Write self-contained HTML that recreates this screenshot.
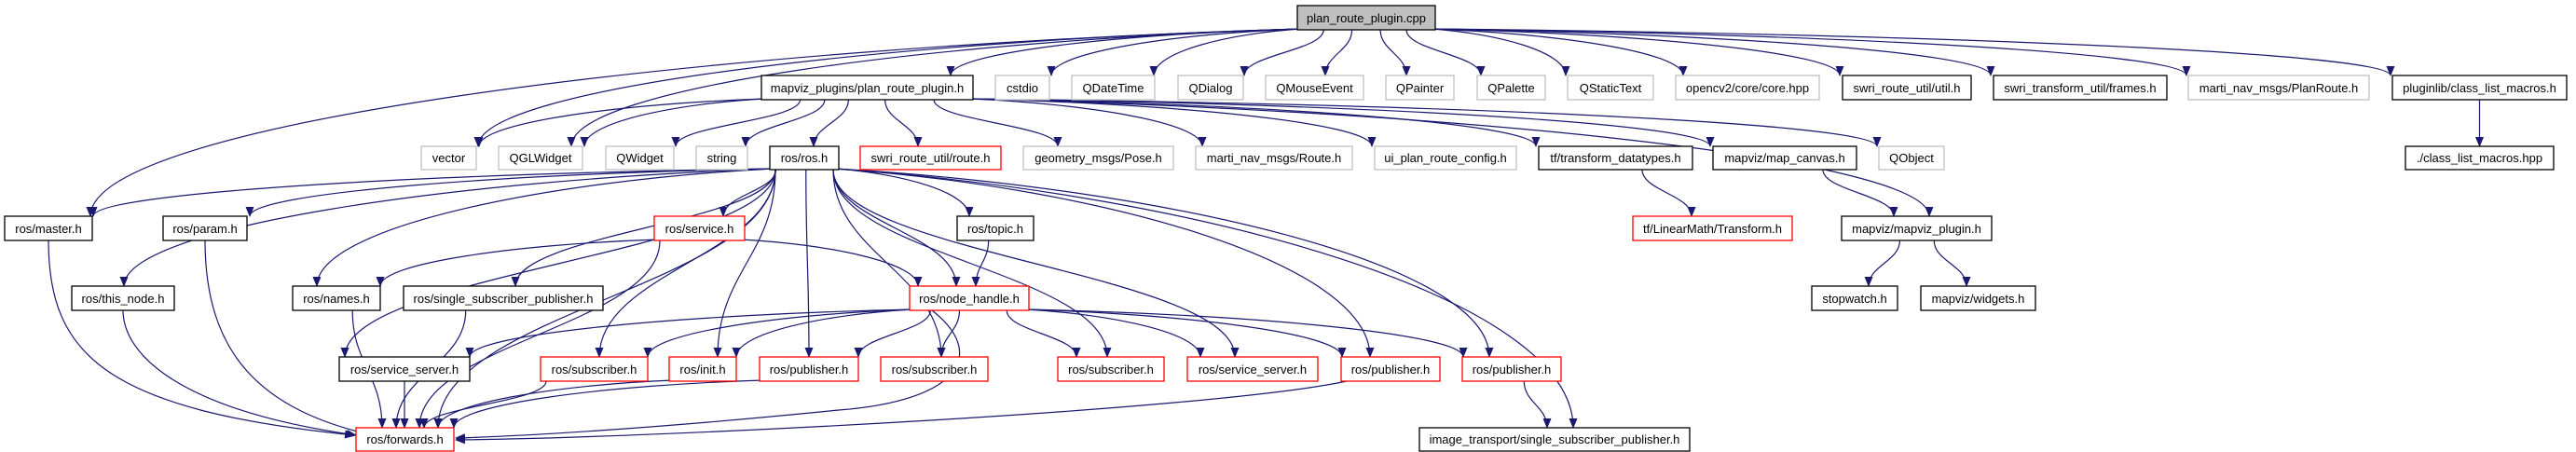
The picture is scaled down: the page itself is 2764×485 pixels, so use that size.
<!DOCTYPE html>
<html><head><meta charset="utf-8"><style>
html,body{margin:0;padding:0;background:#fff;width:2764px;height:485px;overflow:hidden}
svg text{font-family:"Liberation Sans",sans-serif;font-size:13px;text-anchor:middle;fill:#000}
</style></head><body>
<svg id="g" width="2764" height="485" viewBox="0 0 2764 485" xmlns="http://www.w3.org/2000/svg">
<defs><marker id="a" markerWidth="11" markerHeight="9" refX="10" refY="4.5" orient="auto" markerUnits="userSpaceOnUse"><polygon points="0,0 11,4.5 0,9" fill="#191970"/></marker></defs>
<g id="edges" fill="none" stroke="#191970" stroke-width="1.2"></g>
<g id="nodes">
<rect x="1392" y="6" width="148" height="26" fill="#bfbfbf" stroke="#000" stroke-width="1.3"/><text x="1466" y="24">plan_route_plugin.cpp</text>
<rect x="817" y="81" width="227" height="26" fill="#fff" stroke="#000" stroke-width="1.3"/><text x="930.5" y="99">mapviz_plugins/plan_route_plugin.h</text>
<rect x="1068" y="81" width="58" height="26" fill="#fff" stroke="#bfbfbf" stroke-width="1.3"/><text x="1097" y="99">cstdio</text>
<rect x="1150" y="81" width="89" height="26" fill="#fff" stroke="#bfbfbf" stroke-width="1.3"/><text x="1194.5" y="99">QDateTime</text>
<rect x="1264" y="81" width="70" height="26" fill="#fff" stroke="#bfbfbf" stroke-width="1.3"/><text x="1299" y="99">QDialog</text>
<rect x="1358" y="81" width="105" height="26" fill="#fff" stroke="#bfbfbf" stroke-width="1.3"/><text x="1410.5" y="99">QMouseEvent</text>
<rect x="1487" y="81" width="73" height="26" fill="#fff" stroke="#bfbfbf" stroke-width="1.3"/><text x="1523.5" y="99">QPainter</text>
<rect x="1585" y="81" width="73" height="26" fill="#fff" stroke="#bfbfbf" stroke-width="1.3"/><text x="1621.5" y="99">QPalette</text>
<rect x="1682" y="81" width="92" height="26" fill="#fff" stroke="#bfbfbf" stroke-width="1.3"/><text x="1728" y="99">QStaticText</text>
<rect x="1798" y="81" width="154" height="26" fill="#fff" stroke="#bfbfbf" stroke-width="1.3"/><text x="1875" y="99">opencv2/core/core.hpp</text>
<rect x="1977" y="81" width="138" height="26" fill="#fff" stroke="#000" stroke-width="1.3"/><text x="2046" y="99">swri_route_util/util.h</text>
<rect x="2139" y="81" width="186" height="26" fill="#fff" stroke="#000" stroke-width="1.3"/><text x="2232" y="99">swri_transform_util/frames.h</text>
<rect x="2348" y="81" width="194" height="26" fill="#fff" stroke="#bfbfbf" stroke-width="1.3"/><text x="2445" y="99">marti_nav_msgs/PlanRoute.h</text>
<rect x="2567" y="81" width="187" height="26" fill="#fff" stroke="#000" stroke-width="1.3"/><text x="2660.5" y="99">pluginlib/class_list_macros.h</text>
<rect x="452" y="157" width="59" height="25" fill="#fff" stroke="#bfbfbf" stroke-width="1.3"/><text x="481.5" y="174">vector</text>
<rect x="535" y="157" width="90" height="25" fill="#fff" stroke="#bfbfbf" stroke-width="1.3"/><text x="580" y="174">QGLWidget</text>
<rect x="650" y="157" width="73" height="25" fill="#fff" stroke="#bfbfbf" stroke-width="1.3"/><text x="686.5" y="174">QWidget</text>
<rect x="747" y="157" width="55" height="25" fill="#fff" stroke="#bfbfbf" stroke-width="1.3"/><text x="774.5" y="174">string</text>
<rect x="826" y="157" width="74" height="25" fill="#fff" stroke="#000" stroke-width="1.3"/><text x="863" y="174">ros/ros.h</text>
<rect x="923" y="157" width="151" height="25" fill="#fff" stroke="#f00" stroke-width="1.3"/><text x="998.5" y="174">swri_route_util/route.h</text>
<rect x="1098" y="157" width="161" height="25" fill="#fff" stroke="#bfbfbf" stroke-width="1.3"/><text x="1178.5" y="174">geometry_msgs/Pose.h</text>
<rect x="1283" y="157" width="168" height="25" fill="#fff" stroke="#bfbfbf" stroke-width="1.3"/><text x="1367" y="174">marti_nav_msgs/Route.h</text>
<rect x="1475" y="157" width="152" height="25" fill="#fff" stroke="#bfbfbf" stroke-width="1.3"/><text x="1551" y="174">ui_plan_route_config.h</text>
<rect x="1651" y="157" width="165" height="25" fill="#fff" stroke="#000" stroke-width="1.3"/><text x="1733.5" y="174">tf/transform_datatypes.h</text>
<rect x="1838" y="157" width="154" height="25" fill="#fff" stroke="#000" stroke-width="1.3"/><text x="1915" y="174">mapviz/map_canvas.h</text>
<rect x="2016" y="157" width="70" height="25" fill="#fff" stroke="#bfbfbf" stroke-width="1.3"/><text x="2051" y="174">QObject</text>
<rect x="2581" y="157" width="159" height="25" fill="#fff" stroke="#000" stroke-width="1.3"/><text x="2660.5" y="174">./class_list_macros.hpp</text>
<rect x="5" y="232" width="94" height="26" fill="#fff" stroke="#000" stroke-width="1.3"/><text x="52" y="250">ros/master.h</text>
<rect x="175" y="232" width="90" height="26" fill="#fff" stroke="#000" stroke-width="1.3"/><text x="220" y="250">ros/param.h</text>
<rect x="702" y="232" width="97" height="26" fill="#fff" stroke="#f00" stroke-width="1.3"/><text x="750.5" y="250">ros/service.h</text>
<rect x="1027" y="232" width="82" height="26" fill="#fff" stroke="#000" stroke-width="1.3"/><text x="1068" y="250">ros/topic.h</text>
<rect x="1752" y="232" width="171" height="26" fill="#fff" stroke="#f00" stroke-width="1.3"/><text x="1837.5" y="250">tf/LinearMath/Transform.h</text>
<rect x="1976" y="232" width="161" height="26" fill="#fff" stroke="#000" stroke-width="1.3"/><text x="2056.5" y="250">mapviz/mapviz_plugin.h</text>
<rect x="77" y="307" width="110" height="26" fill="#fff" stroke="#000" stroke-width="1.3"/><text x="132" y="325">ros/this_node.h</text>
<rect x="314" y="307" width="94" height="26" fill="#fff" stroke="#000" stroke-width="1.3"/><text x="361" y="325">ros/names.h</text>
<rect x="433" y="307" width="214" height="26" fill="#fff" stroke="#000" stroke-width="1.3"/><text x="540" y="325">ros/single_subscriber_publisher.h</text>
<rect x="976" y="307" width="128" height="26" fill="#fff" stroke="#f00" stroke-width="1.3"/><text x="1040" y="325">ros/node_handle.h</text>
<rect x="1944" y="307" width="92" height="26" fill="#fff" stroke="#000" stroke-width="1.3"/><text x="1990" y="325">stopwatch.h</text>
<rect x="2061" y="307" width="123" height="26" fill="#fff" stroke="#000" stroke-width="1.3"/><text x="2122.5" y="325">mapviz/widgets.h</text>
<rect x="364" y="383" width="140" height="26" fill="#fff" stroke="#000" stroke-width="1.3"/><text x="434" y="401">ros/service_server.h</text>
<rect x="580" y="383" width="115" height="26" fill="#fff" stroke="#f00" stroke-width="1.3"/><text x="637.5" y="401">ros/subscriber.h</text>
<rect x="718" y="383" width="72" height="26" fill="#fff" stroke="#f00" stroke-width="1.3"/><text x="754" y="401">ros/init.h</text>
<rect x="815" y="383" width="106" height="26" fill="#fff" stroke="#f00" stroke-width="1.3"/><text x="868" y="401">ros/publisher.h</text>
<rect x="945" y="383" width="115" height="26" fill="#fff" stroke="#f00" stroke-width="1.3"/><text x="1002.5" y="401">ros/subscriber.h</text>
<rect x="1135" y="383" width="114" height="26" fill="#fff" stroke="#f00" stroke-width="1.3"/><text x="1192" y="401">ros/subscriber.h</text>
<rect x="1274" y="383" width="140" height="26" fill="#fff" stroke="#f00" stroke-width="1.3"/><text x="1344" y="401">ros/service_server.h</text>
<rect x="1439" y="383" width="106" height="26" fill="#fff" stroke="#f00" stroke-width="1.3"/><text x="1492" y="401">ros/publisher.h</text>
<rect x="1569" y="383" width="106" height="26" fill="#fff" stroke="#f00" stroke-width="1.3"/><text x="1622" y="401">ros/publisher.h</text>
<rect x="382" y="459" width="105" height="25" fill="#fff" stroke="#f00" stroke-width="1.3"/><text x="434.5" y="476">ros/forwards.h</text>
<rect x="1523" y="459" width="290" height="25" fill="#fff" stroke="#000" stroke-width="1.3"/><text x="1668" y="476">image_transport/single_subscriber_publisher.h</text>
</g>
</svg>
<script>
var B={cpp:[1392,6,1540,32],mp:[817,81,1044,107],cstdio:[1068,81,1126,107],qdt:[1150,81,1239,107],qd:[1264,81,1334,107],qme:[1358,81,1463,107],qp:[1487,81,1560,107],qpal:[1585,81,1658,107],qst:[1682,81,1774,107],cv:[1798,81,1952,107],util:[1977,81,2115,107],frames:[2139,81,2325,107],plan:[2348,81,2542,107],plug:[2567,81,2754,107],
vector:[452,157,511,182],qgl:[535,157,625,182],qw:[650,157,723,182],str:[747,157,802,182],ros:[826,157,900,182],route:[923,157,1074,182],pose:[1098,157,1259,182],mroute:[1283,157,1451,182],ui:[1475,157,1627,182],tfd:[1651,157,1816,182],canvas:[1838,157,1992,182],qobj:[2016,157,2086,182],clm:[2581,157,2740,182],
master:[5,232,99,258],param:[175,232,265,258],service:[702,232,799,258],topic:[1027,232,1109,258],tr:[1752,232,1923,258],mvp:[1976,232,2137,258],
thisn:[77,307,187,333],names:[314,307,408,333],ssp:[433,307,647,333],nh:[976,307,1104,333],sw:[1944,307,2036,333],wid:[2061,307,2184,333],
ss1:[364,383,504,409],sub1:[580,383,695,409],init:[718,383,790,409],pub1:[815,383,921,409],sub2:[945,383,1060,409],sub3:[1135,383,1249,409],ss2:[1274,383,1414,409],pub2:[1439,383,1545,409],pub3:[1569,383,1675,409],
fw:[382,459,487,484],it:[1523,459,1813,484]};
var E=[
["cpp","mp",1020],["cpp","cstdio",1128],["cpp","qdt",1238],["cpp","qd",1335],["cpp","qme",1422],["cpp","qp",1509],["cpp","qpal",1589],["cpp","qst",1680],["cpp","cv",1806],["cpp","util",1974],["cpp","frames",2136],["cpp","plan",2346],["cpp","plug",2565],
["cpp","vector",513],["cpp","qgl",613],["cpp","master",97],
["mp","vector",522],["mp","qgl",627],["mp","qw",725],["mp","str",800],["mp","ros",873],["mp","route",985],["mp","pose",1135],["mp","mroute",1290],["mp","ui",1470],["mp","tfd",1648],["mp","canvas",1830],["mp","qobj",2014],["mp","mvp",2070],
["plug","clm"],["tfd","tr",1815],["canvas","mvp",2032],["mvp","sw",2005],["mvp","wid",2110],
["ros","master",100],["ros","param",268],["ros","thisn",133],["ros","names",340],["ros","ssp",553],["ros","service",776],["ros","ss1",370],["ros","sub1",643],["ros","init",770],["ros","pub1",868],["ros","fw",470],["ros","topic",1040],["ros","nh",1026],["ros","sub2",1010],["ros","sub3",1188],["ros","ss2",1325],["ros","pub2",1470],["ros","pub3",1598],["ros","it",1688],
["service","names",408],["service","nh",985],["service","fw",450],["topic","nh",1047],
["nh","ss1",504],["nh","sub1",695],["nh","init",790],["nh","pub1",921],["nh","sub2",1010],["nh","sub3",1155],["nh","ss2",1288],["nh","pub2",1440],["nh","pub3",1570],["nh","fw",487],
["master","fw",380],["param","fw",400],["thisn","fw",382],["names","fw",410],["ssp","fw",425],["ss1","fw",434],["sub1","fw",455],["init","fw",470],["pub1","fw",487],["pub2","fw",487],["pub3","it",1660]];
var g=document.getElementById("edges"),s="";
E.forEach(function(e){var a=B[e[0]],b=B[e[1]];var tx=e.length>2?e[2]:(b[0]+b[2])/2;var ty=b[1];
var tx2=Math.max(b[0]-3,Math.min(b[2]+3,tx));
var ac=(a[0]+a[2])/2,hw=(a[2]-a[0])/2;
var d,dy;
if(e[0]=="pub2"&&e[1]=="fw"){d="M1445,409 C1300,440 700,470 489,472";}
else if(e[0]=="nh"&&e[1]=="fw"){d="M1000,333 C1060,380 1030,430 900,440 C700,460 560,468 489,470";}
else if(e[1]=="fw"&&(e[0]=="master"||e[0]=="param"||e[0]=="thisn")){var sx=(a[0]+a[2])/2;d="M"+sx+","+a[3]+" C"+sx+",380 "+(sx+60)+",440 "+tx2+","+(ty+8);}
else if(Math.abs(tx2-ac)>hw+2.5*(ty-a[3])){
 var dir=tx2>ac?1:-1;var sx=dir>0?a[2]-4:a[0]+4;var sy=a[3]-1;dy=ty-sy;var dx=Math.abs(tx2-sx);
 d="M"+sx+","+sy+" C"+(sx+dir*dx*0.5)+","+(sy+dy*0.1)+" "+tx2+","+(ty-dy*0.5)+" "+tx2+","+ty;}
else{var sx=ac+(tx2-ac)*0.35;sx=Math.max(a[0]+6,Math.min(a[2]-6,sx));var sy=a[3];dy=ty-sy;d="M"+sx+","+sy+" C"+sx+","+(sy+dy*0.45)+" "+tx2+","+(ty-dy*0.45)+" "+tx2+","+ty;}
s+='<path d="'+d+'" marker-end="url(#a)"/>';});
g.innerHTML=s;
</script>
</body></html>
